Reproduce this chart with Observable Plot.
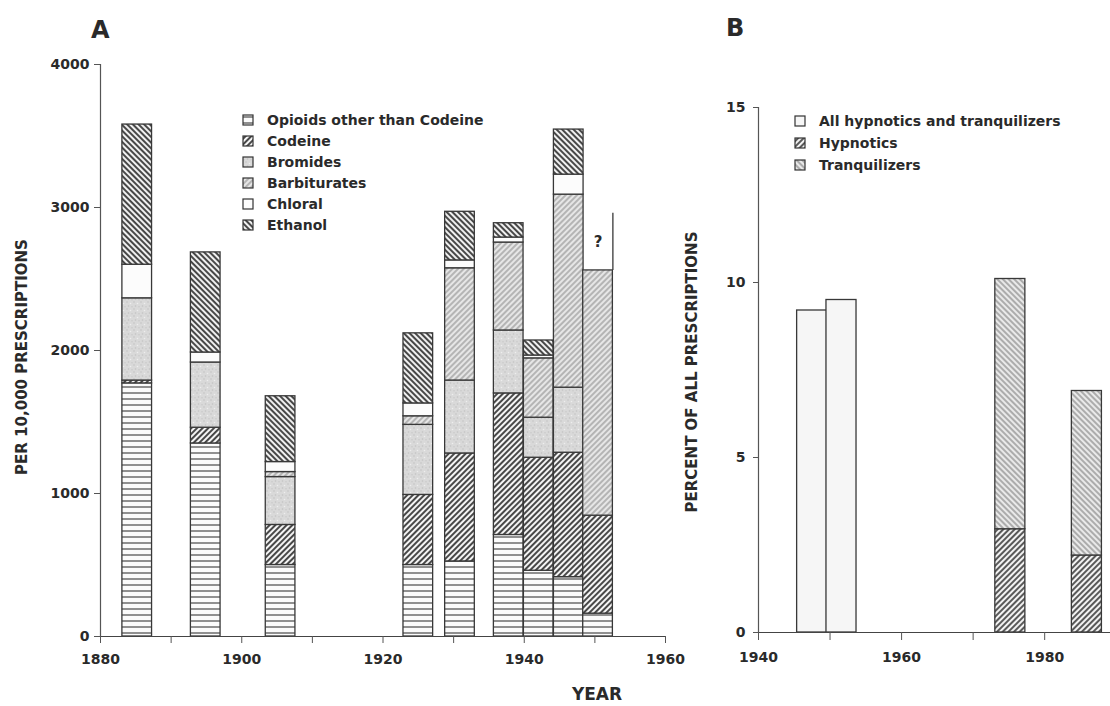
<!DOCTYPE html>
<html>
<head>
<meta charset="utf-8">
<script src="https://cdn.jsdelivr.net/npm/d3@7"></script>
<script src="https://cdn.jsdelivr.net/npm/@observablehq/plot@0.6"></script>
<style>
  html, body { margin: 0; padding: 0; background: #fff; }
  #wrap { position: relative; width: 1110px; height: 706px; overflow: hidden; background: #fff; }
  #wrap > svg { position: absolute; top: 0; }
</style>
</head>
<body>
<div id="wrap"></div>
<script>
// ---------------- DATA ----------------
// Panel A: drugs per 10,000 prescriptions, by survey year (bar centres)
const yearsA = [1885.2, 1894.9, 1905.5, 1925.0, 1930.9, 1937.8, 1942.05, 1946.3, 1950.45];
const drugsA = ["Opioids other than Codeine", "Codeine", "Bromides", "Barbiturates", "Chloral", "Ethanol"];
const opioids      = [1770, 1350, 500, 500, 525, 710, 460, 415, 160];
const codeine      = [  20,  110, 280, 490, 755, 990, 790, 870, 685];
const bromides     = [ 575,  456, 335, 490, 510, 440, 280, 455,   0];
const barbiturates = [   0,    0,  35,  60, 785, 615, 415, 1350, 1715];
const chloral      = [ 235,   70,  70,  90,  55,  35,  20, 140,   0];
const ethanol      = [ 980,  700, 460, 490, 340, 100, 105, 315,   0];
// uncertain ("?") upper extent of the last bar
const uncertainYear = 1950.45;
const uncertainTop = 2960;
const uncertainMark = "?";
const yTicksA = [0, 1000, 2000, 3000, 4000];
const xTicksA = [1880, 1890, 1900, 1910, 1920, 1930, 1940, 1950, 1960];

// Panel B: percent of all prescriptions
const yearsB = [1947.5, 1951.6, 1975.2, 1985.9];
const seriesB = ["All hypnotics and tranquilizers", "Hypnotics", "Tranquilizers"];
const allHypTranq   = [9.2, 9.5, 0, 0];
const hypnotics     = [0, 0, 2.95, 2.2];
const tranquilizers = [0, 0, 7.15, 4.7];
const yTicksB = [0, 5, 10, 15];
const xTicksB = [1940, 1950, 1960, 1970, 1980];

// ---------------- HELPERS ----------------
const FONT = "'DejaVu Sans', 'Liberation Sans', Arial, sans-serif";
const HALF = 2.1; // half bar width, in years
const INK = "#2a2a2a";

function stackRows(years, names, series) {
  const rows = [];
  years.forEach((yr, i) => {
    let acc = 0;
    names.forEach((nm, j) => {
      const v = series[j][i];
      if (v > 0) rows.push({year: yr, name: nm, y1: acc, y2: acc + v});
      acc += v;
    });
  });
  return rows;
}
const rowsA = stackRows(yearsA, drugsA, [opioids, codeine, bromides, barbiturates, chloral, ethanol]);
const rowsB = stackRows(yearsB, seriesB, [allHypTranq, hypnotics, tranquilizers]);
const lastTotal = opioids[8] + codeine[8] + bromides[8] + barbiturates[8] + chloral[8] + ethanol[8];
const uncertain = [{year: uncertainYear, from: lastTotal, to: uncertainTop, label: uncertainMark}];

const wrap = d3.select("#wrap");

// pattern definitions (shared by both plots and legends)
const defsSvg = wrap.append("svg").attr("width", 0).attr("height", 0).style("left", "0px");
const defs = defsSvg.append("defs");
function stripes(id, {size, angle, bg, stroke, width}) {
  const p = defs.append("pattern").attr("id", id).attr("patternUnits", "userSpaceOnUse")
    .attr("width", size).attr("height", size);
  if (angle) p.attr("patternTransform", `rotate(${angle})`);
  p.append("rect").attr("width", size).attr("height", size).attr("fill", bg);
  p.append("line").attr("x1", size / 2).attr("x2", size / 2).attr("y1", -1).attr("y2", size + 1)
    .attr("stroke", stroke).attr("stroke-width", width);
}
function hlines(id, {w, h, bg, stroke, width}) {
  const p = defs.append("pattern").attr("id", id).attr("patternUnits", "userSpaceOnUse")
    .attr("width", w).attr("height", h);
  p.append("rect").attr("width", w).attr("height", h).attr("fill", bg);
  p.append("line").attr("x1", -1).attr("x2", w + 1).attr("y1", h / 2).attr("y2", h / 2)
    .attr("stroke", stroke).attr("stroke-width", width);
}
function speckle(id, bg, dots) {
  const p = defs.append("pattern").attr("id", id).attr("patternUnits", "userSpaceOnUse")
    .attr("width", 7).attr("height", 7);
  p.append("rect").attr("width", 7).attr("height", 7).attr("fill", bg);
  [[1, 1, dots], [4.5, 2.5, "#eeeeee"], [2.5, 5, dots], [6, 5.8, "#c9c9c9"]].forEach(([cx, cy, c]) =>
    p.append("circle").attr("cx", cx).attr("cy", cy).attr("r", 0.8).attr("fill", c));
}
// Panel A patterns
hlines("pa0", {w: 8, h: 6, bg: "#fbfbfb", stroke: "#555", width: 1.3});          // opioids
stripes("pa1", {size: 4, angle: 45, bg: "#f4f4f4", stroke: "#2a2a2a", width: 1.7}); // codeine
speckle("pa2", "#d9d9d9", "#c2c2c2");                                             // bromides
stripes("pa3", {size: 4, angle: 45, bg: "#e6e6e6", stroke: "#8c8c8c", width: 1.1}); // barbiturates
defs.append("pattern").attr("id", "pa4").attr("patternUnits", "userSpaceOnUse").attr("width", 4).attr("height", 4)
  .append("rect").attr("width", 4).attr("height", 4).attr("fill", "#fcfcfc");      // chloral
stripes("pa5", {size: 4, angle: -45, bg: "#f0f0f0", stroke: "#2a2a2a", width: 1.7}); // ethanol
// Panel B patterns
defs.append("pattern").attr("id", "pb0").attr("patternUnits", "userSpaceOnUse").attr("width", 4).attr("height", 4)
  .append("rect").attr("width", 4).attr("height", 4).attr("fill", "#f6f6f6");
stripes("pb1", {size: 4, angle: 45, bg: "#f2f2f2", stroke: "#333", width: 1.6});
stripes("pb2", {size: 4, angle: -45, bg: "#e9e9e9", stroke: "#7a7a7a", width: 1.1});

const fillA = drugsA.map((_, i) => `url(#pa${i})`);
const fillB = seriesB.map((_, i) => `url(#pb${i})`);
const style = {fontFamily: FONT, fontSize: "14px", fontWeight: "bold", color: INK, background: "transparent", overflow: "visible"};

// ---------------- PANEL A ----------------
const plotA = Plot.plot({
  width: 700, height: 706,
  marginLeft: 100, marginRight: 35, marginTop: 64, marginBottom: 70,
  x: {domain: [1880, 1960]},
  y: {domain: [0, 4000]},
  color: {domain: drugsA, range: fillA},
  style,
  marks: [
    Plot.rect(rowsA, {x1: d => d.year - HALF, x2: d => d.year + HALF, y1: "y1", y2: "y2",
      fill: "name", stroke: "#383838", strokeWidth: 1.3}),
    Plot.ruleX(uncertain, {x: d => d.year + HALF, y1: "from", y2: "to", stroke: "#383838", strokeWidth: 1.3}),
    Plot.text(uncertain, {x: "year", y: d => (d.from + d.to) / 2, text: "label", fontSize: 15, fontWeight: "bold", fill: INK}),
    Plot.ruleY([0], {stroke: "#444", strokeWidth: 1.2}),
    Plot.ruleX([1880], {y1: 0, y2: 4000, stroke: "#555", strokeWidth: 1.2}),
    Plot.axisX({ticks: xTicksA, tickFormat: d => d % 20 === 0 ? String(d) : "", tickSize: 7, tickPadding: 11, label: null, stroke: "#555"}),
    Plot.axisY({ticks: yTicksA, tickFormat: d => String(d), tickSize: 6, tickPadding: 5, label: null, stroke: "#555"})
  ]
});
wrap.node().appendChild(plotA);
d3.select(plotA).style("left", "0px");

// ---------------- PANEL B ----------------
const plotB = Plot.plot({
  width: 440, height: 706,
  marginLeft: 88, marginRight: 0, marginTop: 107, marginBottom: 74,
  x: {domain: [1940, 1989.2]},
  y: {domain: [0, 15]},
  color: {domain: seriesB, range: fillB},
  style,
  marks: [
    Plot.rect(rowsB, {x1: d => d.year - HALF, x2: d => d.year + HALF, y1: "y1", y2: "y2",
      fill: "name", stroke: "#383838", strokeWidth: 1.3}),
    Plot.ruleY([0], {stroke: "#444", strokeWidth: 1.2}),
    Plot.ruleX([1940], {y1: 0, y2: 15, stroke: "#555", strokeWidth: 1.2}),
    Plot.axisX({ticks: xTicksB, tickFormat: d => d % 20 === 0 ? String(d) : "", tickSize: 8, tickPadding: 12, label: null, stroke: "#555"}),
    Plot.axisY({ticks: yTicksB, tickFormat: d => String(d), tickSize: 5, tickPadding: 8, label: null, stroke: "#555"})
  ]
});
wrap.node().appendChild(plotB);
d3.select(plotB).style("left", "670px");

// ---------------- LABELS & LEGENDS ----------------
const ov = wrap.append("svg").attr("width", 1110).attr("height", 706).style("left", "0px")
  .style("pointer-events", "none").style("font-family", FONT).style("font-weight", "bold").attr("fill", INK);

ov.append("text").attr("x", 91).attr("y", 38).attr("font-size", 24).text("A");
ov.append("text").attr("x", 726).attr("y", 36).attr("font-size", 24).text("B");
ov.append("text").attr("x", 597).attr("y", 700).attr("text-anchor", "middle").attr("font-size", 17).text("YEAR");
ov.append("text").attr("transform", "translate(27,357) rotate(-90)").attr("text-anchor", "middle")
  .attr("font-size", 15).text("PER 10,000 PRESCRIPTIONS");
ov.append("text").attr("transform", "translate(697,372) rotate(-90)").attr("text-anchor", "middle")
  .attr("font-size", 15).text("PERCENT OF ALL PRESCRIPTIONS");

function legend(names, fills, x0, y0, step, size) {
  names.forEach((nm, i) => {
    const cy = y0 + i * step;
    ov.append("rect").attr("x", x0).attr("y", cy - 5).attr("width", 10).attr("height", 10)
      .attr("fill", fills[i]).attr("stroke", "#333").attr("stroke-width", 1.2);
    ov.append("text").attr("x", x0 + 24).attr("y", cy + 5).attr("font-size", size).text(nm);
  });
}
legend(drugsA, fillA, 243, 120, 21, 14);
legend(seriesB, fillB, 795, 121, 22, 14);
</script>
</body>
</html>
